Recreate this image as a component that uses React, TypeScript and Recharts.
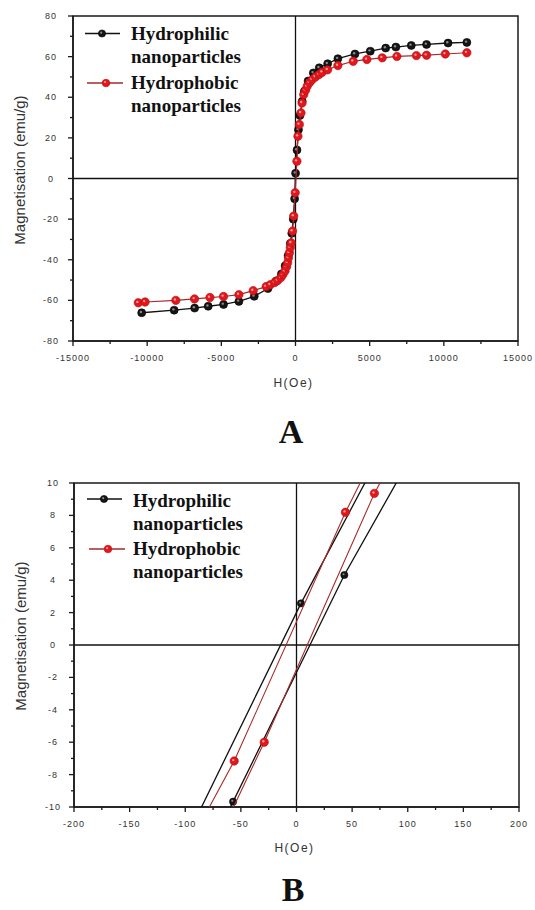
import React from 'react';
import {
  ScatterChart,
  Scatter,
  XAxis,
  YAxis,
  ReferenceLine,
  ReferenceArea,
  Legend,
  Label,
} from 'recharts';

// ---------- Series names ----------
const seriesNames = ['Hydrophilic nanoparticles', 'Hydrophobic nanoparticles'];

// ---------- Panel A (full loop) ----------
const hA_hydrophilic = [
  -10370, -8180, -6800, -5885, -4850, -3815, -2780, -1860, -1310, -950, -700, -500, -350, -250, -150, -60,
  4, 100, 200, 300, 450, 600, 850, 1200, 1600, 2166, 2858, 4009, 5041, 6080, 6767, 7805, 8836, 10285, 11552,
];
const mA_hydrophilic = [
  -66.1, -64.8, -63.8, -62.9, -62.0, -60.5, -58.0, -54.2, -50.5, -47.0, -43.0, -38.0, -32.0, -27.0, -20.0, -10.0,
  2.6, 14.0, 24.0, 31.0, 38.0, 43.0, 48.0, 52.0, 54.5, 56.5, 59.0, 61.3, 62.7, 64.2, 64.7, 65.5, 66.0, 66.7, 67.0,
];
const hA_hydrophobic = [
  -10600, -10143, -8068, -6807, -5770, -4853, -3815, -2850, -1975, -1700, -1400, -1200, -985, -850, -710, -600,
  -530, -470, -410, -350, -290, -200, -120, -20, 95, 165, 260, 370, 440, 556, 680, 787, 950, 1130, 1350, 1593,
  1800, 2166, 2858, 3890, 4812, 5848, 6835, 8150, 8836, 10100, 11552,
];
const mA_hydrophobic = [
  -61.2, -60.8, -60.0, -59.3, -58.6, -58.1, -57.2, -55.2, -53.2, -52.3, -51.2, -50.2, -48.8, -47.3, -45.6, -43.5,
  -41.5, -39.0, -36.6, -34.0, -31.7, -25.9, -18.5, -7.0, 8.5, 20.8, 26.6, 32.3, 37.2, 41.3, 43.5, 45.4, 47.2, 48.7,
  50.0, 51.2, 52.3, 53.5, 55.6, 57.7, 58.6, 59.4, 60.1, 60.5, 60.7, 61.3, 61.9,
];

// ---------- Panel B (zoom near origin: descending then ascending branch) ----------
const hB_hydrophilic = [204, 104, 4, -96, -196, -157, -57, 43, 143];
const mB_hydrophilic = [28.0, 15.5, 2.57, -11.5, -25.0, -23.0, -9.67, 4.32, 16.5];
const hB_hydrophobic = [144, 44, -56, -156, -129, -29, 70, 170];
const mB_hydrophobic = [21.9, 8.19, -7.16, -19.9, -20.5, -6.0, 9.36, 22.0];

// ---------- Ticks ----------
const xMajorA = [-15000, -10000, -5000, 0, 5000, 10000, 15000];
const xMinorA = [-12500, -7500, -2500, 2500, 7500, 12500];
const yMajorA = [-80, -60, -40, -20, 0, 20, 40, 60, 80];
const yMinorA = [-70, -50, -30, -10, 10, 30, 50, 70];
const xMajorB = [-200, -150, -100, -50, 0, 50, 100, 150, 200];
const xMinorB = [-175, -125, -75, -25, 25, 75, 125, 175];
const yMajorB = [-10, -8, -6, -4, -2, 0, 2, 4, 6, 8, 10];
const yMinorB = [-9, -7, -5, -3, -1, 1, 3, 5, 7, 9];

const xLabel = 'H(Oe)';
const yLabel = 'Magnetisation (emu/g)';
const panelLabels = ['A', 'B'];

const zip = (h: number[], m: number[]) => h.map((v, i) => ({ h: v, m: m[i] }));
const sortNum = (a: number[], b: number[]) => [...a, ...b].sort((p, q) => p - q);

const AXIS = '#1a1a1a';
const BLACK_LINE = '#111111';
const RED_LINE = '#a82a2a';
const RED_FILL = '#e3161b';

const tickFont: React.CSSProperties = {
  fontFamily: "'Liberation Sans', Arial, sans-serif",
  fontSize: 9,
  letterSpacing: 1,
  fill: '#333',
};
const titleFont: React.CSSProperties = {
  fontFamily: "'Liberation Sans', Arial, sans-serif",
  fill: '#333',
};
const legendFont: React.CSSProperties = {
  fontFamily: "'Liberation Serif', 'Times New Roman', serif",
  fontWeight: 'bold',
  fontSize: 19,
  lineHeight: '22.5px',
  color: '#111',
  whiteSpace: 'nowrap',
};

const XTick = (props: any) => {
  const { x, y, payload, majors, labelDy } = props;
  const major = majors.includes(payload.value);
  return (
    <g>
      <line x1={x} y1={y} x2={x} y2={y + (major ? 5 : 3)} stroke={AXIS} strokeWidth={1.3} />
      {major && (
        <text x={x} y={y + labelDy} textAnchor="middle" dominantBaseline="central" style={tickFont}>
          {payload.value}
        </text>
      )}
    </g>
  );
};

const YTick = (props: any) => {
  const { x, y, payload, majors, labelDx } = props;
  const major = majors.includes(payload.value);
  return (
    <g>
      <line x1={x - (major ? 5 : 3)} y1={y} x2={x} y2={y} stroke={AXIS} strokeWidth={1.3} />
      {major && (
        <text x={x - labelDx} y={y} textAnchor="middle" dominantBaseline="central" style={tickFont}>
          {payload.value}
        </text>
      )}
    </g>
  );
};

const BlackDot = (r: number) => (p: any) => (
  <g>
    <circle cx={p.cx} cy={p.cy} r={r} fill="#151515" stroke="#000" strokeWidth={0.6} />
    <circle cx={p.cx - 0.8} cy={p.cy - 0.8} r={r * 0.3} fill="#8a8a8a" />
  </g>
);
const RedDot = (r: number) => (p: any) => (
  <g>
    <circle cx={p.cx} cy={p.cy} r={r} fill={RED_FILL} stroke="#b01010" strokeWidth={0.6} />
    <circle cx={p.cx - 0.9} cy={p.cy - 0.9} r={r * 0.28} fill="#f7a0a0" />
  </g>
);

const LegendBox = ({ tops, lineY }: { tops: number[]; lineY: number[] }) => (
  <div style={{ position: 'relative', width: 230, height: 100 }}>
    {seriesNames.map((name, i) => {
      const words = name.split(' ');
      const isRed = i === 1;
      return (
        <div key={name} style={{ position: 'absolute', left: 0, top: tops[i], width: 230, height: 46 }}>
          <svg width={42} height={24} style={{ position: 'absolute', left: 0, top: 0 }}>
            <line
              x1={isRed ? 3 : 1}
              y1={lineY[i]}
              x2={isRed ? 39 : 36}
              y2={lineY[i]}
              stroke={isRed ? RED_LINE : BLACK_LINE}
              strokeWidth={1.4}
            />
            {isRed ? RedDot(3.8)({ cx: 22, cy: lineY[i] }) : BlackDot(3.6)({ cx: 18, cy: lineY[i] })}
          </svg>
          <div style={{ position: 'absolute', left: 47, top: 0, ...legendFont }}>
            {words[0]}
            <br />
            {words[1]}
          </div>
        </div>
      );
    })}
  </div>
);

const AxisTitles = ({ viewBox, text, kind, dy }: any) => {
  if (!viewBox) return null;
  if (kind === 'y') {
    const cx = viewBox.x + 6;
    const cy = viewBox.y + viewBox.height / 2 + dy;
    return (
      <text
        x={cx}
        y={cy}
        transform={`rotate(-90, ${cx}, ${cy})`}
        textAnchor="middle"
        dominantBaseline="central"
        style={{ ...titleFont, fontSize: 15 }}
      >
        {text}
      </text>
    );
  }
  const cx = viewBox.x + viewBox.width / 2 - 2;
  const cy = viewBox.y + dy;
  return (
    <text x={cx} y={cy} textAnchor="middle" dominantBaseline="central" style={{ ...titleFont, fontSize: 12, letterSpacing: 1.5 }}>
      {text}
    </text>
  );
};

const panelLetter: React.CSSProperties = {
  position: 'absolute',
  fontFamily: "'Liberation Serif', 'Times New Roman', serif",
  fontWeight: 'bold',
  color: '#111',
  transform: 'translate(-50%, -50%)',
  lineHeight: 1,
};

const PanelA = () => {
  const dataPhil = zip(hA_hydrophilic, mA_hydrophilic);
  const dataPhob = zip(hA_hydrophobic, mA_hydrophobic);
  return (
    <ScatterChart width={535} height={460} margin={{ top: 16, right: 17, bottom: 89, left: 13 }}>
      <XAxis
        type="number"
        dataKey="h"
        domain={[-15000, 15000]}
        ticks={sortNum(xMajorA, xMinorA)}
        interval={0}
        tickSize={0}
        tickMargin={0}
        height={30}
        axisLine={{ stroke: AXIS, strokeWidth: 1.5 }}
        tick={(p: any) => <XTick {...p} majors={xMajorA} labelDy={17} />}
      >
        <Label content={(p: any) => <AxisTitles {...p} text={xLabel} kind="x" dy={42} />} />
      </XAxis>
      <YAxis
        type="number"
        dataKey="m"
        domain={[-80, 80]}
        ticks={sortNum(yMajorA, yMinorA)}
        interval={0}
        tickSize={0}
        tickMargin={0}
        width={60}
        axisLine={{ stroke: AXIS, strokeWidth: 1.5 }}
        tick={(p: any) => <YTick {...p} majors={yMajorA} labelDx={22} />}
      >
        <Label content={(p: any) => <AxisTitles {...p} text={yLabel} kind="y" dy={-8.5} />} />
      </YAxis>
      <ReferenceLine x={0} stroke={BLACK_LINE} strokeWidth={1.3} />
      <ReferenceLine y={0} stroke={BLACK_LINE} strokeWidth={1.3} />
      <Scatter
        name={seriesNames[0]}
        data={dataPhil}
        line={{ stroke: BLACK_LINE, strokeWidth: 1.3 }}
        shape={BlackDot(4)}
        isAnimationActive={false}
      />
      <Scatter
        name={seriesNames[1]}
        data={dataPhob}
        line={{ stroke: RED_LINE, strokeWidth: 1.2 }}
        shape={RedDot(4.2)}
        isAnimationActive={false}
      />
      <ReferenceArea x1={-15000} x2={15000} y1={-80} y2={80} fill="none" fillOpacity={0} stroke={AXIS} strokeWidth={1.5} />
      <Legend
        layout="horizontal"
        verticalAlign="middle"
        align="center"
        wrapperStyle={{ left: 84, top: 22, width: 230 }}
        content={() => <LegendBox tops={[1, 50]} lineY={[10.5, 11]} />}
      />
    </ScatterChart>
  );
};

const PanelB = () => {
  const dataPhil = zip(hB_hydrophilic, mB_hydrophilic);
  const dataPhob = zip(hB_hydrophobic, mB_hydrophobic);
  return (
    <ScatterChart width={535} height={450} margin={{ top: 23, right: 16, bottom: 73, left: 14 }}>
      <XAxis
        type="number"
        dataKey="h"
        domain={[-200, 200]}
        allowDataOverflow
        ticks={sortNum(xMajorB, xMinorB)}
        interval={0}
        tickSize={0}
        tickMargin={0}
        height={30}
        axisLine={{ stroke: AXIS, strokeWidth: 1.5 }}
        tick={(p: any) => <XTick {...p} majors={xMajorB} labelDy={17} />}
      >
        <Label content={(p: any) => <AxisTitles {...p} text={xLabel} kind="x" dy={41} />} />
      </XAxis>
      <YAxis
        type="number"
        dataKey="m"
        domain={[-10, 10]}
        allowDataOverflow
        ticks={sortNum(yMajorB, yMinorB)}
        interval={0}
        tickSize={0}
        tickMargin={0}
        width={60}
        axisLine={{ stroke: AXIS, strokeWidth: 1.5 }}
        tick={(p: any) => <YTick {...p} majors={yMajorB} labelDx={21} />}
      >
        <Label content={(p: any) => <AxisTitles {...p} text={yLabel} kind="y" dy={-9} />} />
      </YAxis>
      <ReferenceLine x={0} stroke={BLACK_LINE} strokeWidth={1.3} />
      <ReferenceLine y={0} stroke={BLACK_LINE} strokeWidth={1.3} />
      <Scatter
        name={seriesNames[0]}
        data={dataPhil}
        line={{ stroke: BLACK_LINE, strokeWidth: 1.3 }}
        shape={BlackDot(3.6)}
        isAnimationActive={false}
      />
      <Scatter
        name={seriesNames[1]}
        data={dataPhob}
        line={{ stroke: RED_LINE, strokeWidth: 1.1 }}
        shape={RedDot(4.2)}
        isAnimationActive={false}
      />
      <ReferenceArea x1={-200} x2={200} y1={-10} y2={10} fill="none" fillOpacity={0} stroke={AXIS} strokeWidth={1.5} />
      <Legend
        layout="horizontal"
        verticalAlign="middle"
        align="center"
        wrapperStyle={{ left: 86, top: 29, width: 230 }}
        content={() => <LegendBox tops={[1, 49]} lineY={[9, 11]} />}
      />
    </ScatterChart>
  );
};

export default function App() {
  return (
    <div style={{ position: 'absolute', left: 0, top: 0, width: 535, height: 910, background: '#fff', overflow: 'hidden' }}>
      <div style={{ position: 'absolute', left: 0, top: 0 }}>
        <PanelA />
      </div>
      <div style={{ ...panelLetter, left: 291, top: 432, fontSize: 34 }}>{panelLabels[0]}</div>
      <div style={{ position: 'absolute', left: 0, top: 460 }}>
        <PanelB />
      </div>
      <div style={{ ...panelLetter, left: 293, top: 890, fontSize: 34 }}>{panelLabels[1]}</div>
    </div>
  );
}
